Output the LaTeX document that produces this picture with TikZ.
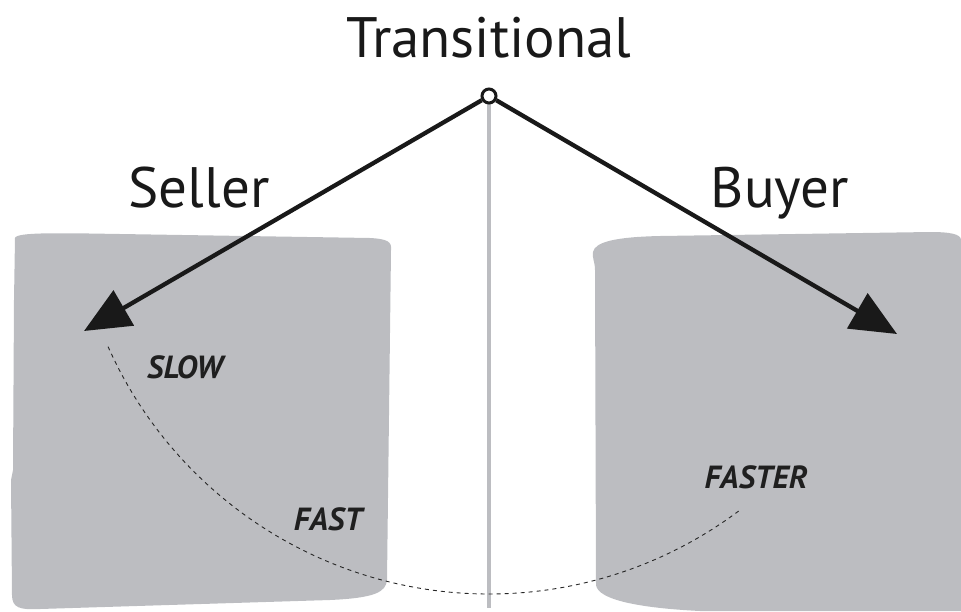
\documentclass[tikz,border=0pt]{standalone}
\usepackage{fontspec}
\setmainfont{PT Sans}
\usetikzlibrary{arrows.meta}
\definecolor{boxgray}{HTML}{BCBDC1}
\tikzset{
  lbl/.style={font=\fontsize{57}{57}\selectfont, text=black!90, inner sep=0pt, anchor=base},
  speed/.style={font=\bfseries\itshape\fontsize{32}{32}\selectfont, text=black!88, inner sep=0pt, anchor=base},
  bigarrow/.style={line width=4.3pt, black!90, -{Triangle[length=46pt,width=40pt]}},
  hinge/.style={circle, draw=black!90, line width=3pt, fill=white, minimum size=14pt, inner sep=0pt},
}
\begin{document}
\begin{tikzpicture}[x=1pt,y=-1pt]
\useasboundingbox (0,0) rectangle (961,611);
% left box
\fill[boxgray] (15,238) .. controls (16,232) and (60,233) .. (120,234)
  -- (370,238) .. controls (388,239) and (392,242) .. (391,250)
  -- (387,580) .. controls (386,592) and (375,598) .. (330,600)
  -- (40,609) .. controls (20,610) and (12,608) .. (12,595)
  -- (11,480) -- (13,470) -- (14,300) -- cycle;
% right box
\fill[boxgray] (593,252) .. controls (595,242) and (615,237) .. (660,236)
  -- (930,232) .. controls (950,232) and (961,234) .. (961,240)
  -- (961,611) -- (700,611)
  .. controls (640,608) and (598,600) .. (596,585)
  -- (595,270) .. controls (595,262) and (592,258) .. (593,252) -- cycle;
% pole
\draw[boxgray, line width=4pt] (489,100) -- (489,608);
% dashed arc
\draw[black!85, dashed, dash pattern=on 4pt off 4pt, line width=0.9pt]
  (489,177) ++(156:417) arc[start angle=156, end angle=53, radius=417];
% hinge and arrows
\node[hinge] (top) at (489,96) {};
\coordinate (ltip) at (84,331);
\coordinate (rtip) at (897,334);
\draw[bigarrow] (top) -- (ltip);
\draw[bigarrow] (top) -- (rtip);
% labels
\node[lbl] (trans) at (489,57) {Transitional};
\node[lbl] (seller) at (199,207) {Seller};
\node[lbl] (buyer) at (780,207) {Buyer};
\node[speed] (slow) at (185,378) {SLOW};
\node[speed] (fast) at (328,530) {FAST};
\node[speed] (faster) at (756,488) {FASTER};
\end{tikzpicture}
\end{document}
